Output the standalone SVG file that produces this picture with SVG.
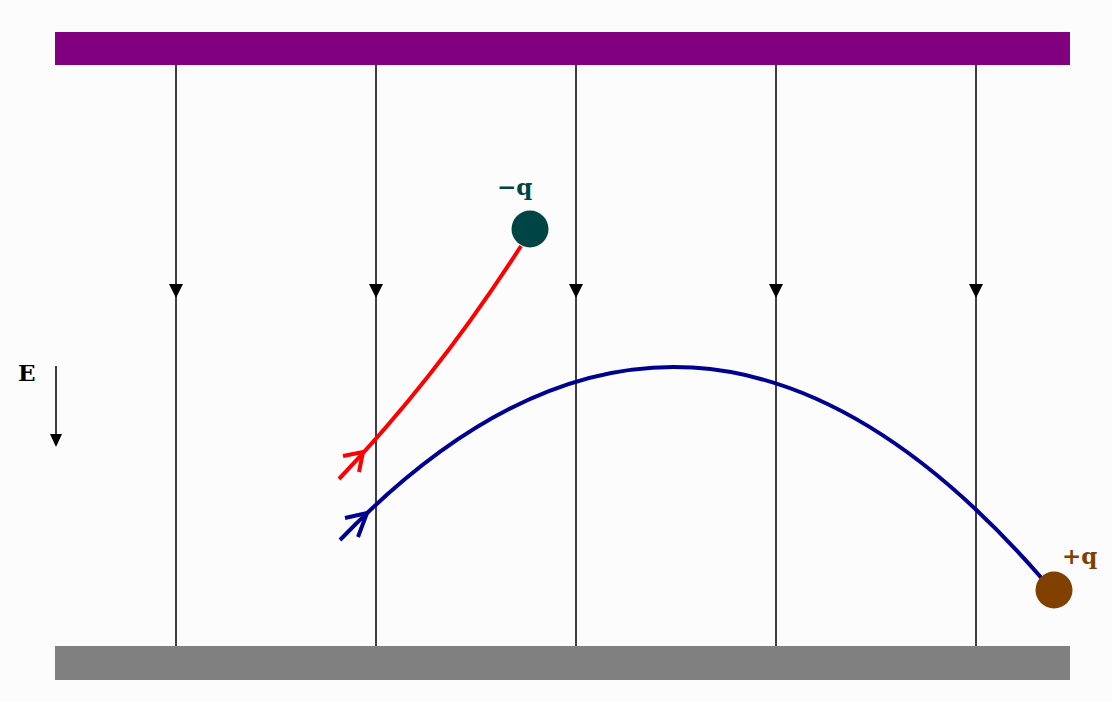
<svg xmlns="http://www.w3.org/2000/svg" width="1112" height="702" viewBox="0 0 1112 702">
<defs>
<style>
.field{stroke:#000;stroke-width:1.5;fill:none}
.head{fill:#000}
</style>
</defs>
<rect x="0" y="0" width="1112" height="702" fill="#fcfcfc"/>
<g id="top-plate"><rect x="55" y="32" width="1015" height="33" fill="#800080"/></g>
<g id="bottom-plate"><rect x="55" y="646" width="1015" height="34" fill="#808080"/></g>
<g id="connectors">
<g id="field-lines">
<line class="field" x1="176" y1="65" x2="176" y2="646"/>
<line class="field" x1="376" y1="65" x2="376" y2="646"/>
<line class="field" x1="576" y1="65" x2="576" y2="646"/>
<line class="field" x1="776" y1="65" x2="776" y2="646"/>
<line class="field" x1="976" y1="65" x2="976" y2="646"/>
<path class="head" d="M169,284 L183,284 L176,298 Z"/>
<path class="head" d="M369,284 L383,284 L376,298 Z"/>
<path class="head" d="M569,284 L583,284 L576,298 Z"/>
<path class="head" d="M769,284 L783,284 L776,298 Z"/>
<path class="head" d="M969,284 L983,284 L976,298 Z"/>
</g>
<g id="E-arrow">
<line class="field" x1="56" y1="366" x2="56" y2="440"/>
<path class="head" d="M50,434 L62,434 L56,447 Z"/>
</g>
<g id="red-path">
<path d="M339,479 Q438.8,374.3 521,246" fill="none" stroke="#ff0000" stroke-width="4"/>
<path d="M343,456 L363,452 L359,472" fill="none" stroke="#ff0000" stroke-width="4"/>
</g>
<g id="blue-path">
<path d="M340,540 Q692.5,174.2 1045,582" fill="none" stroke="#000090" stroke-width="4"/>
<path d="M345,518 L367,513 L358,537" fill="none" stroke="#000090" stroke-width="4"/>
</g>
</g>
<g id="E-label"><text x="18" y="381" font-family="DejaVu Serif, serif" font-weight="bold" font-size="23" fill="#000">E</text></g>
<g id="neg-charge">
<circle cx="530" cy="229" r="18.5" fill="#004545"/>
<text x="497" y="195" font-family="DejaVu Serif, serif" font-weight="bold" font-size="23" fill="#004545">−q</text>
</g>
<g id="pos-charge">
<circle cx="1054" cy="590" r="18.5" fill="#804000"/>
<text x="1062" y="564" font-family="DejaVu Serif, serif" font-weight="bold" font-size="23" fill="#804000">+q</text>
</g>
</svg>
